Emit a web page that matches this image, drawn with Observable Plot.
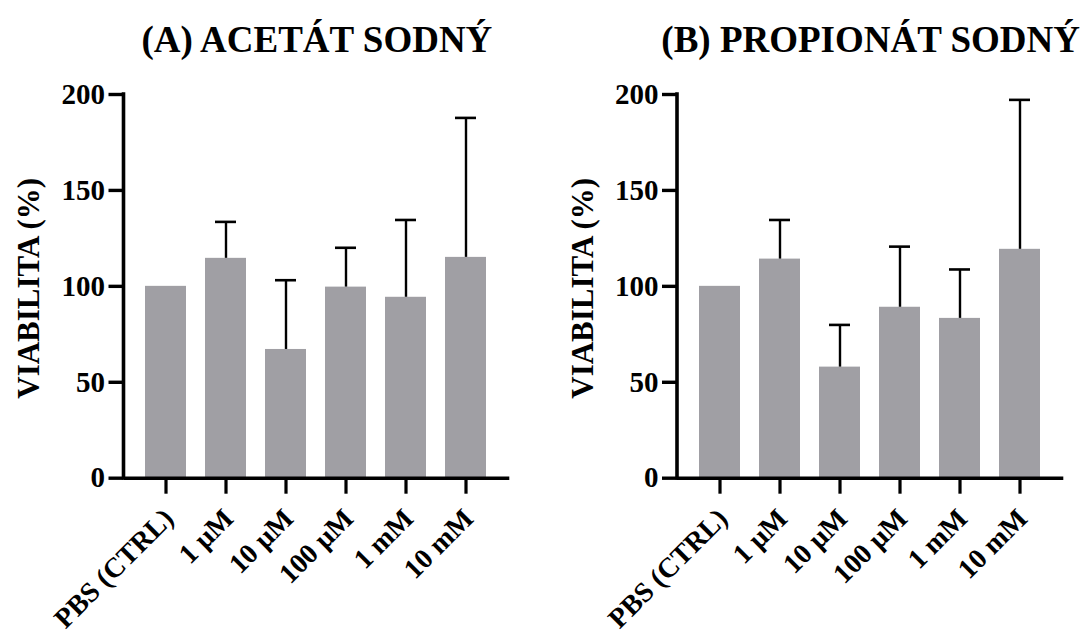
<!DOCTYPE html>
<html>
<head>
<meta charset="utf-8">
<script src="https://cdn.jsdelivr.net/npm/d3@7"></script>
<script src="https://cdn.jsdelivr.net/npm/@observablehq/plot@0.6"></script>
<style>
  html, body { margin: 0; padding: 0; background: #fff; }
  #charts { display: flex; flex-direction: row; width: 1086px; height: 633px; }
  #charts > div { width: 543px; height: 633px; }
</style>
</head>
<body>
<div id="charts"><div id="panelA"></div><div id="panelB"></div></div>
<script>
// Treatment groups (x axis)
const categories = ["PBS (CTRL)", "1 µM", "10 µM", "100 µM", "1 mM", "10 mM"];

// Cell viability (%) – mean and SD, sodium acetate
const acetateMean = [100, 114.6, 67.1, 99.6, 94.3, 115.1];
const acetateSD = [null, 19.0, 36.1, 20.5, 40.3, 72.7];

// Cell viability (%) – mean and SD, sodium propionate
const propionateMean = [100, 114.2, 57.9, 89.1, 83.3, 119.3];
const propionateSD = [null, 20.4, 22.0, 31.6, 25.5, 77.9];

const yTicks = [0, 50, 100, 150, 200];
const panelTitles = ["(A) ACETÁT SODNÝ", "(B) PROPIONÁT SODNÝ"];
const yLabel = "VIABILITA (%)";

const BAR = "#a09fa4";
const INK = "#000";

function panel({title, means, sds, marginLeft, marginRight, insetLeft, insetRight}) {
  const rows = categories.map((c, i) => ({cat: c, mean: means[i], sd: sds[i]}));
  const withSD = rows.filter(d => d.sd != null);

  // vertical axis line from the top tick down to zero
  const yAxisLine = (index, scales, values, dimensions) => {
    const g = d3.create("svg:line")
      .attr("x1", dimensions.marginLeft)
      .attr("x2", dimensions.marginLeft)
      .attr("y1", scales.y(yTicks[yTicks.length - 1]) - 1.75)
      .attr("y2", scales.y(0) + 1.75)
      .attr("stroke", INK)
      .attr("stroke-width", 3.6);
    return g.node();
  };

  return Plot.plot({
    width: 543,
    height: 633,
    marginTop: 94,
    marginBottom: 155.3,
    marginLeft,
    marginRight,
    style: {fontFamily: "'Liberation Serif', 'Times New Roman', serif", fontWeight: "bold", color: INK, background: "#fff"},
    x: {domain: categories, padding: 0.32, insetLeft, insetRight},
    y: {domain: [0, 200]},
    marks: [
      Plot.barY(rows, {x: "cat", y: "mean", fill: BAR}),
      Plot.ruleX(withSD, {x: "cat", y1: "mean", y2: d => d.mean + d.sd, stroke: INK, strokeWidth: 2.4}),
      Plot.tickY(withSD, {x: "cat", y: d => d.mean + d.sd, stroke: INK, strokeWidth: 2.6, insetLeft: 10, insetRight: 10}),
      Plot.ruleY([0], {stroke: INK, strokeWidth: 3.6}),
      yAxisLine,
      Plot.axisY({ticks: yTicks, tickSize: 15, strokeWidth: 3.4, tickPadding: 4, fontSize: 29, label: null}),
      Plot.axisX({tickSize: 16, strokeWidth: 3.2, fill: "none", label: null}),
      Plot.text(categories, {
        x: d => d, text: d => d, frameAnchor: "bottom",
        rotate: -45, textAnchor: "end", lineAnchor: "bottom",
        dx: 9, dy: 42, fontSize: 28, fill: INK
      }),
      Plot.text([yLabel], {
        text: d => d, frameAnchor: "left", rotate: -90,
        textAnchor: "middle", lineAnchor: "bottom",
        dx: -85, dy: 2, fontSize: 31, fill: INK
      }),
      Plot.text([title], {
        text: d => d, frameAnchor: "top", textAnchor: "middle", lineAnchor: "bottom",
        dy: -43, fontSize: 37, fill: INK
      })
    ]
  });
}

document.getElementById("panelA").append(panel({
  title: panelTitles[0], means: acetateMean, sds: acetateSD,
  marginLeft: 123.5, marginRight: 33.7, insetLeft: 0.6, insetRight: 3.5
}));
document.getElementById("panelB").append(panel({
  title: panelTitles[1], means: propionateMean, sds: propionateSD,
  marginLeft: 134, marginRight: 22.7, insetLeft: 1.5, insetRight: 3.7
}));
</script>
</body>
</html>
